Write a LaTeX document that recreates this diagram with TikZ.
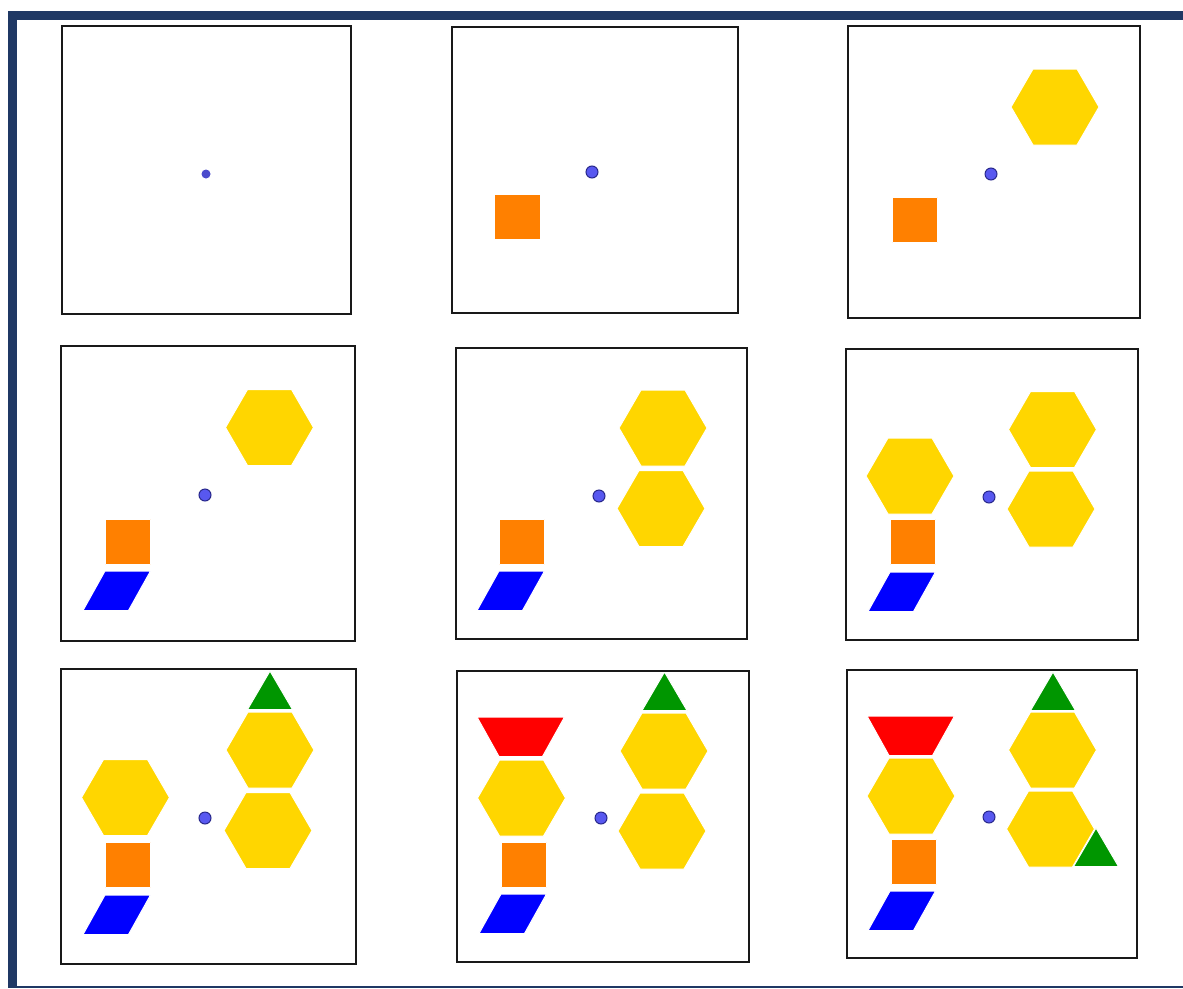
\documentclass[tikz,border=0pt]{standalone}
\usetikzlibrary{calc}
\definecolor{navy}{RGB}{31,56,100}
\definecolor{pbyellow}{RGB}{255,214,0}
\definecolor{pborange}{RGB}{255,128,0}
\definecolor{pbblue}{RGB}{0,0,255}
\definecolor{pbred}{RGB}{255,0,0}
\definecolor{pbgreen}{RGB}{0,150,0}
\definecolor{dotfill}{RGB}{88,88,240}
\definecolor{dotline}{RGB}{40,40,140}
\definecolor{framecol}{RGB}{25,25,25}
\tikzset{
  framebox/.style={draw=framecol,line width=2.2pt},
  piece/.style={draw=white,line width=1pt,line join=round},
  hexf/.style={piece,fill=pbyellow},
  sqf/.style={piece,fill=pborange},
  rhf/.style={piece,fill=pbblue},
  trif/.style={piece,fill=pbgreen},
  trapf/.style={piece,fill=pbred},
  pdot/.style={circle,fill=dotfill,draw=dotline,line width=1pt,minimum size=12pt,inner sep=0pt},
  pdotsmall/.style={circle,fill=dotfill!85!black,minimum size=9pt,inner sep=0pt},
}
\newcommand\PHex[2]{\filldraw[hexf] (#1-44,#2) -- (#1-22,#2-38) -- (#1+22,#2-38) -- (#1+44,#2) -- (#1+22,#2+38) -- (#1-22,#2+38) -- cycle;}
\newcommand\PSq[2]{\filldraw[sqf] (#1,#2) rectangle (#1+45.5,#2+45.5);}
\newcommand\PRh[2]{\filldraw[rhf] (#1,#2) -- (#1+45.5,#2) -- (#1+23.5,#2+39.5) -- (#1-22,#2+39.5) -- cycle;}
\newcommand\PTri[2]{\filldraw[trif] (#1,#2) -- (#1+22.5,#2+38.5) -- (#1-22.5,#2+38.5) -- cycle;}
\newcommand\PTrap[2]{\filldraw[trapf] (#1,#2) -- (#1+87.5,#2) -- (#1+65.5,#2+39.5) -- (#1+22,#2+39.5) -- cycle;}
\begin{document}
\begin{tikzpicture}[x=1pt,y=-1pt]
\useasboundingbox (0,0) rectangle (1183,988);
\fill[white] (0,0) rectangle (1183,988);
% page border
\fill[navy] (8,11) rectangle (1183,19.5);
\fill[navy] (8,11) rectangle (17,988);
\draw[navy,line width=1.5pt] (17,987) -- (1183,987);
% panel 1
\node[pdotsmall] (dot1) at (206,174) {};
% panel 2
\PSq{494.5}{194}
\node[pdot] (dot2) at (592,172) {};
% panel 3
\PHex{1055}{107}
\PSq{892}{197}
\node[pdot] (dot3) at (991,174) {};
% panel 4
\PHex{269.5}{427.5}
\PSq{105}{519}
\PRh{105}{571}
\node[pdot] (dot4) at (205,495) {};
% panel 5
\PHex{663}{428}
\PHex{661}{508.5}
\PSq{499}{519}
\PRh{499}{571}
\node[pdot] (dot5) at (599,496) {};
% panel 6
\PHex{1052.5}{429.5}
\PHex{1051}{509}
\PHex{910}{476}
\PSq{890}{519}
\PRh{890}{572}
\node[pdot] (dot6) at (989,497) {};
% panel 7
\PTri{270}{671}
\PHex{270}{750}
\PHex{268}{830.5}
\PHex{125.5}{797.5}
\PSq{105}{842}
\PRh{105}{895}
\node[pdot] (dot7) at (205,818) {};
% panel 8
\PTri{664.5}{672}
\PHex{664}{751}
\PHex{662}{831}
\PTrap{477}{717}
\PHex{521.5}{798}
\PSq{501}{842}
\PRh{501}{894}
\node[pdot] (dot8) at (601,818) {};
% panel 9
\PTri{1053}{672}
\PHex{1052.5}{750}
\PHex{1050.5}{829}
\PTri{1096}{828}
\PTrap{867}{716}
\PHex{911}{796}
\PSq{891}{839}
\PRh{890}{891}
\node[pdot] (dot9) at (989,817) {};
% frames
\draw[framebox] (62,26) rectangle (351,314);
\draw[framebox] (452,27) rectangle (738,313);
\draw[framebox] (848,26) rectangle (1140,318);
\draw[framebox] (61,346) rectangle (355,641);
\draw[framebox] (456,348) rectangle (747,639);
\draw[framebox] (846,349) rectangle (1138,640);
\draw[framebox] (61,669) rectangle (356,964);
\draw[framebox] (457,671) rectangle (749,962);
\draw[framebox] (847,670) rectangle (1137,958);
\end{tikzpicture}
\end{document}
